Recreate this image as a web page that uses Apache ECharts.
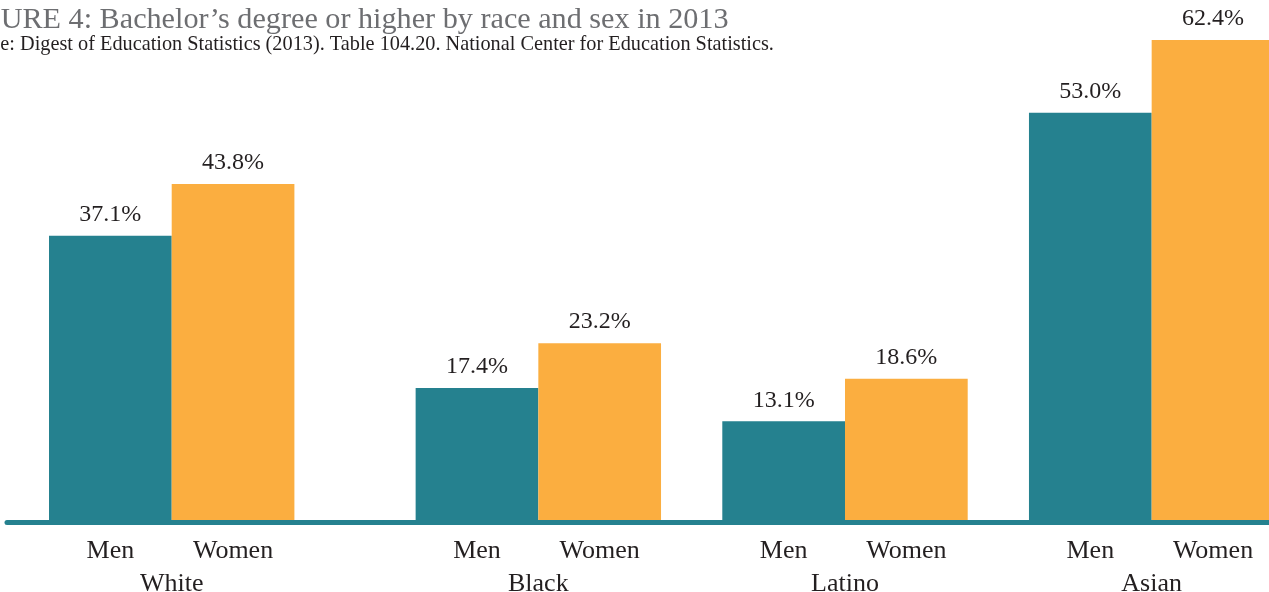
<!DOCTYPE html>
<html>
<head>
<meta charset="utf-8">
<title>Bachelor's degree or higher by race and sex in 2013</title>
<script src="https://cdn.jsdelivr.net/npm/echarts@6/dist/echarts.min.js"></script>
<style>
  html, body { margin: 0; padding: 0; background: #fff; }
  #chart { width: 1269px; height: 592px; }
</style>
</head>
<body>
<div id="chart"></div>
<script>
var groups = ['White', 'Black', 'Latino', 'Asian'];
var sexes = ['Men', 'Women'];
var men = [37.1, 17.4, 13.1, 53.0];
var women = [43.8, 23.2, 18.6, 62.4];

var teal = '#25818f';
var orange = '#fbae40';
var serif = 'Liberation Serif';
var barW = 122.7;

var chart = echarts.init(document.getElementById('chart'));

// label under each group: Men / Women on one line, group name below
function groupLabel(v) {
    if (!v) return '';
    return '{m|' + sexes[0] + '}{w|' + sexes[1] + '}\n{g|' + v + '}';
}

var labelStyle = {
    interval: 0,
    margin: 12,
    formatter: groupLabel,
    rich: {
        m: { width: barW, align: 'center', fontFamily: serif, fontSize: 26, lineHeight: 33, color: '#231f20' },
        w: { width: barW, align: 'center', fontFamily: serif, fontSize: 26, lineHeight: 33, color: '#231f20' },
        g: { width: barW * 2, align: 'center', fontFamily: serif, fontSize: 26, lineHeight: 33, color: '#231f20' }
    }
};

function xAxisFor(idx, cats) {
    return {
        type: 'category',
        gridIndex: idx,
        data: cats,
        z: 5,
        axisLine: { lineStyle: { color: teal, width: 5 } },
        axisTick: { show: false },
        axisLabel: labelStyle
    };
}

function yAxisFor(idx) {
    return { type: 'value', gridIndex: idx, min: 0, max: 65, show: false, splitLine: { show: false } };
}

var valueLabel = {
    show: true,
    position: 'top',
    distance: 9,
    fontFamily: serif,
    fontSize: 24,
    color: '#231f20',
    formatter: function (p) { return p.value.toFixed(1) + '%'; }
};

function barSeries(name, data, idx, color) {
    return {
        name: name,
        type: 'bar',
        xAxisIndex: idx,
        yAxisIndex: idx,
        data: data,
        barWidth: barW,
        barGap: '0%',
        itemStyle: { color: color },
        label: valueLabel,
        silent: true
    };
}

var option = {
    backgroundColor: '#fff',
    animation: false,
    title: [{
        text: 'FIGURE 4: Bachelor\u2019s degree or higher by race and sex in 2013',
        left: -48,
        top: 5,
        padding: 0,
        textStyle: { fontFamily: serif, fontSize: 30.2, fontWeight: 'normal', color: '#6d6e71' }
    }, {
        text: 'Source: Digest of Education Statistics (2013). Table 104.20. National Center for Education Statistics.',
        left: -47,
        top: 35,
        padding: 0,
        textStyle: { fontFamily: serif, fontSize: 20.3, fontWeight: 'normal', color: '#231f20' }
    }],
    // White sits alone in the first grid; the other three groups share the second
    grid: [
        { left: 7, width: 658.8, top: 20, bottom: 69.5, outerBoundsMode: 'none' },
        { left: 385, width: 920, top: 20, bottom: 69.5, outerBoundsMode: 'none' }
    ],
    xAxis: [xAxisFor(0, [groups[0], '']), xAxisFor(1, groups.slice(1))],
    yAxis: [yAxisFor(0), yAxisFor(1)],
    series: [
        barSeries(sexes[0], [men[0], '-'], 0, teal),
        barSeries(sexes[1], [women[0], '-'], 0, orange),
        barSeries(sexes[0], men.slice(1), 1, teal),
        barSeries(sexes[1], women.slice(1), 1, orange)
    ]
};

chart.setOption(option);
</script>
</body>
</html>
